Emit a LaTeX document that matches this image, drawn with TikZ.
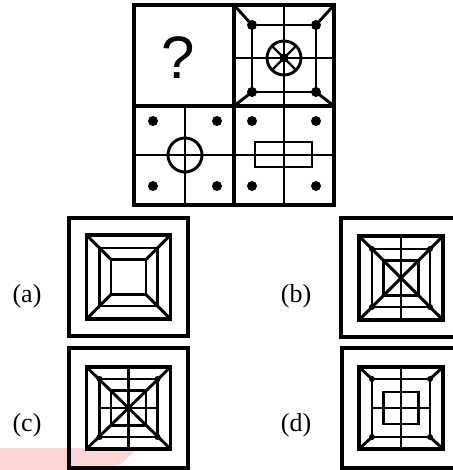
\documentclass[tikz,border=0pt]{standalone}
\usepackage{fontspec}
\setmainfont{Liberation Serif}
\newfontfamily\qfont{Liberation Sans}
\begin{document}
\begin{tikzpicture}[x=1pt,y=-1pt,
  heavy/.style={line width=3.6pt},
  med/.style={line width=2.9pt},
  thin/.style={line width=2.2pt},
  lab/.style={font=\fontsize{26}{26}\selectfont, inner sep=0pt}]
\useasboundingbox (0,0) rectangle (452,470);
% pink smudge
\fill[pink!80, opacity=0.8] (0,448) -- (138,448) -- (114,470) -- (0,470) -- cycle;

% ===== main grid =====
% top-right cell
\draw[med] (234,5) -- (252,25) (334,5) -- (316,25) (234,106) -- (252,92) (334,106) -- (316,92);
\draw[med] (252,25) rectangle (316,92);
\draw[med] (284,5) -- (284,106) (234,58) -- (334,58);
\draw[med] (284,58) circle (17);
\draw[thin] (284,58) ++(45:17) -- ++(225:34);
\draw[thin] (284,58) ++(135:17) -- ++(315:34);
\foreach \p in {(252,25),(316,25),(252,92),(316,92)} \fill \p circle (5);
\fill (284,58) circle (4.5);
% bottom-left cell
\draw[med] (185,106) -- (185,205);
\draw[med] (134,155) -- (334,155);
\draw[med] (185,155) circle (17);
\foreach \p in {(153,121),(217,121),(153,186),(217,186)} \fill \p circle (5);
% bottom-right cell
\draw[med] (284,106) -- (284,205);
\draw[med] (255,142) rectangle (312,167);
\foreach \p in {(252,121),(316,121),(252,186),(316,186)} \fill \p circle (5);
% main dividers and border
\draw[heavy] (234,5) -- (234,205) (134,106) -- (334,106);
\draw[heavy] (134,5) rectangle (334,205);
\node[font=\qfont\fontsize{60}{60}\selectfont, inner sep=0pt] (q) at (178,58) {?};

% ===== option (a) =====
\begin{scope}[shift={(128.5,277)}]
  \draw[heavy] (-59.5,-59) rectangle (59.5,59);
  \draw[med] (-42,-42) -- (-17.5,-17.5) (42,-42) -- (17.5,-17.5)
             (-42,42) -- (-17.5,17.5) (42,42) -- (17.5,17.5);
  \draw[med] (-29,-29) rectangle (29,29);
  \draw[med] (-17.5,-17.5) rectangle (17.5,17.5);
  \draw[heavy] (-42,-42) rectangle (42,42);
\end{scope}
\node[lab] (la) at (27,296) {(a)};

% ===== option (b) =====
\begin{scope}[shift={(401,278)}]
  \draw[heavy] (-60,-60) rectangle (60,59);
  \draw[med] (-42,-42) -- (42,42) (42,-42) -- (-42,42);
  \draw[med] (0,-42) -- (0,42);
  \draw[med] (-29,-29) rectangle (29,29);
  \draw[med] (-17.5,-17.5) rectangle (17.5,17.5);
  \foreach \p in {(-29,-29),(29,-29),(-29,29),(29,29)} \fill \p circle (3);
  \draw[heavy] (-42,-42) rectangle (42,42);
\end{scope}
\node[lab] (lb) at (296,296) {(b)};

% ===== option (c) =====
\begin{scope}[shift={(128.5,408)}]
  \draw[heavy] (-59.5,-60) rectangle (59.5,60);
  \draw[med] (-42,-41) -- (42,41) (42,-41) -- (-42,41);
  \draw[med] (0,-41) -- (0,41) (-29,0) -- (29,0);
  \draw[med] (-29,-29) rectangle (29,29);
  \draw[med] (-17.5,-17.5) rectangle (17.5,17.5);
  \foreach \p in {(-29,-29),(29,-29),(-29,29),(29,29)} \fill \p circle (3);
  \draw[heavy] (-42,-41) rectangle (42,41);
\end{scope}
\node[lab] (lc) at (27,425) {(c)};

% ===== option (d) =====
\begin{scope}[shift={(401,408)}]
  \draw[heavy] (-59,-60) rectangle (61,60);
  \draw[med] (-42,-41) -- (-29,-29) (42,-41) -- (29,-29)
             (-42,41) -- (-29,29) (42,41) -- (29,29);
  \draw[med] (0,-41) -- (0,41) (-29,0) -- (29,0);
  \draw[med] (-29,-29) rectangle (29,29);
  \draw[med] (-17.5,-16) rectangle (17.5,16);
  \foreach \p in {(-29,-29),(29,-29),(-29,29),(29,29)} \fill \p circle (3);
  \draw[heavy] (-42,-41) rectangle (42,41);
\end{scope}
\node[lab] (ld) at (296,425) {(d)};
\end{tikzpicture}
\end{document}
